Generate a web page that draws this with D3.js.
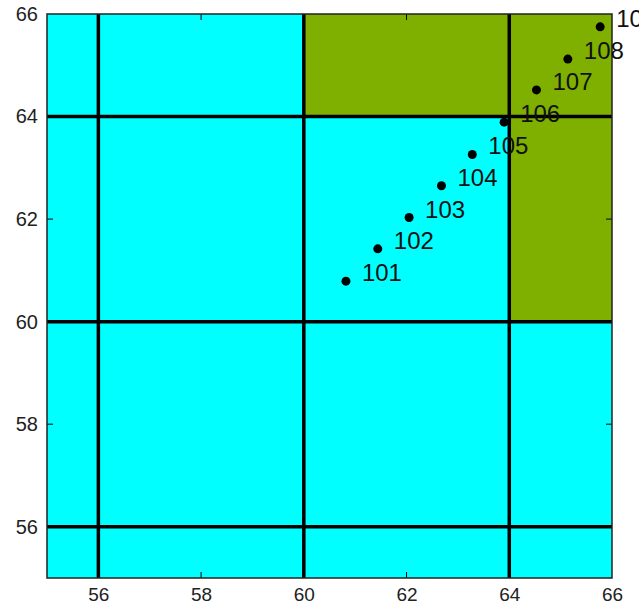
<!DOCTYPE html>
<html>
<head>
<meta charset="utf-8">
<script src="https://cdn.jsdelivr.net/npm/d3@7"></script>
<style>
  body { margin: 0; background: #fff; }
  svg { display: block; font-family: "Liberation Sans", Arial, sans-serif; }
</style>
</head>
<body>
<svg width="639" height="609"></svg>
<script>
// point values
let pointX = [60.82, 61.44, 62.05, 62.68, 63.28, 63.90, 64.53, 65.14, 65.77];
let pointY = [60.79, 61.42, 62.03, 62.65, 63.26, 63.89, 64.52, 65.12, 65.75];
let pointLabels = ["101", "102", "103", "104", "105", "106", "107", "108", "109"];

// shaded regions [x0, x1, y0, y1]
let regionX0 = [60, 64];
let regionX1 = [66, 66];
let regionY0 = [64, 60];
let regionY1 = [66, 64];

let gridValues = [56, 60, 64];
let tickValues = [56, 58, 60, 62, 64, 66];

let svg = d3.select('svg');
let padLeft = 47, padRight = 612, padTop = 14, padBottom = 578;

let xScale = d3.scaleLinear().domain([55, 66]).range([padLeft, padRight]);
let yScale = d3.scaleLinear().domain([55, 66]).range([padBottom, padTop]);

// background
svg.append('rect')
  .attr('x', padLeft).attr('y', padTop)
  .attr('width', padRight - padLeft).attr('height', padBottom - padTop)
  .attr('fill', '#00ffff');

let regions = regionX0.map((d, i) => ({x0: d, x1: regionX1[i], y0: regionY0[i], y1: regionY1[i]}));
svg.selectAll('rect.region')
  .data(regions)
  .enter()
  .append('rect')
  .attr('class', 'region')
  .attr('x', d => xScale(d.x0))
  .attr('y', d => yScale(d.y1))
  .attr('width', d => xScale(d.x1) - xScale(d.x0))
  .attr('height', d => yScale(d.y0) - yScale(d.y1))
  .attr('fill', '#7fb000');

// little inward ticks
let tickLen = 6;
let small = [58, 62];
small.forEach(v => {
  svg.append('line').attr('x1', xScale(v)).attr('x2', xScale(v))
    .attr('y1', padBottom).attr('y2', padBottom - tickLen).attr('stroke', '#000');
  svg.append('line').attr('x1', xScale(v)).attr('x2', xScale(v))
    .attr('y1', padTop).attr('y2', padTop + tickLen).attr('stroke', '#000');
  svg.append('line').attr('y1', yScale(v)).attr('y2', yScale(v))
    .attr('x1', padLeft).attr('x2', padLeft + tickLen).attr('stroke', '#000');
  svg.append('line').attr('y1', yScale(v)).attr('y2', yScale(v))
    .attr('x1', padRight).attr('x2', padRight - tickLen).attr('stroke', '#000');
});

// thick grid lines
svg.selectAll('line.vgrid')
  .data(gridValues)
  .enter()
  .append('line')
  .attr('class', 'vgrid')
  .attr('x1', d => xScale(d)).attr('x2', d => xScale(d))
  .attr('y1', padTop).attr('y2', padBottom)
  .attr('stroke', '#000').attr('stroke-width', 3.5);

svg.selectAll('line.hgrid')
  .data(gridValues)
  .enter()
  .append('line')
  .attr('class', 'hgrid')
  .attr('y1', d => yScale(d)).attr('y2', d => yScale(d))
  .attr('x1', padLeft).attr('x2', padRight)
  .attr('stroke', '#000').attr('stroke-width', 3.5);

// frame
svg.append('rect')
  .attr('x', padLeft).attr('y', padTop)
  .attr('width', padRight - padLeft).attr('height', padBottom - padTop)
  .attr('fill', 'none').attr('stroke', '#222').attr('stroke-width', 1.5);

// axes labels
let xAxis = d3.axisBottom(xScale).tickValues(tickValues).tickSize(0).tickPadding(10);
svg.append('g')
  .attr('transform', `translate(0, ${padBottom})`)
  .call(xAxis)
  .call(g => g.select('.domain').remove())
  .selectAll('text')
  .attr('font-size', 19)
  .attr('font-family', '"Liberation Sans", Arial, sans-serif')
  .attr('fill', '#222');

let yAxis = d3.axisLeft(yScale).tickValues(tickValues).tickSize(0).tickPadding(9);
svg.append('g')
  .attr('transform', `translate(${padLeft}, 0)`)
  .call(yAxis)
  .call(g => g.select('.domain').remove())
  .selectAll('text')
  .attr('font-size', 20)
  .attr('font-family', '"Liberation Sans", Arial, sans-serif')
  .attr('fill', '#222');

// points
let points = pointX.map((d, i) => ({x: d, y: pointY[i], label: pointLabels[i]}));
svg.selectAll('circle.pt')
  .data(points)
  .enter()
  .append('circle')
  .attr('class', 'pt')
  .attr('cx', d => xScale(d.x))
  .attr('cy', d => yScale(d.y))
  .attr('r', 4.5)
  .attr('fill', '#000');

svg.selectAll('text.lbl')
  .data(points)
  .enter()
  .append('text')
  .attr('class', 'lbl')
  .attr('x', d => xScale(d.x) + 16)
  .attr('y', d => yScale(d.y))
  .attr('font-size', 24)
  .attr('fill', '#111')
  .text(d => d.label);
</script>
</body>
</html>
